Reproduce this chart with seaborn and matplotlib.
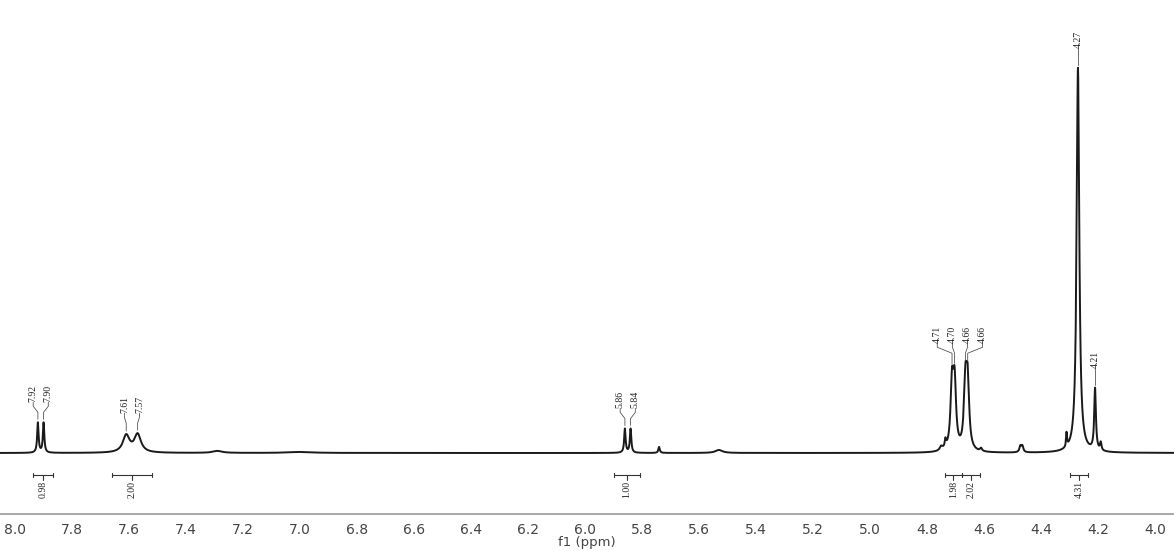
import numpy as np
import pandas as pd
import matplotlib
matplotlib.use("Agg")
import matplotlib.pyplot as plt
from matplotlib.ticker import MultipleLocator, FormatStrFormatter
import seaborn as sns

# peak list: centre (ppm), height above baseline, half width (ppm)
peak_ppm = [7.920, 7.900, 7.610, 7.570, 7.290, 7.000, 5.860, 5.840, 5.740, 5.530,
            4.750, 4.735, 4.712, 4.703, 4.665, 4.657, 4.610, 4.472, 4.465,
            4.310, 4.270, 4.210, 4.190]
peak_height = [30, 30, 17, 18, 2, 1, 24, 24, 6, 3,
               4, 8, 64, 64, 64, 64, 3, 6, 6,
               14, 385, 62, 8]
peak_hwhm = [0.003, 0.003, 0.014, 0.014, 0.02, 0.05, 0.003, 0.003, 0.003, 0.015,
             0.006, 0.003, 0.006, 0.006, 0.006, 0.006, 0.004, 0.004, 0.004,
             0.002, 0.0055, 0.0035, 0.003]

# peak picking labels
label_ppm = [7.92, 7.90, 7.61, 7.57, 5.86, 5.84, 4.712, 4.703, 4.665, 4.657, 4.27, 4.21]
label_text = ["7.92", "7.90", "7.61", "7.57", "5.86", "5.84",
              "4.71", "4.70", "4.66", "4.66", "4.27", "4.21"]

# integration regions
integral_from = [7.937, 7.660, 5.898, 4.737, 4.677, 4.298]
integral_to = [7.867, 7.520, 5.807, 4.677, 4.614, 4.235]
integral_value = ["0.98", "2.00", "1.00", "1.98", "2.02", "4.31"]


def lorentz_sum(x):
    y = np.zeros_like(x)
    for c, h, w in zip(peak_ppm, peak_height, peak_hwhm):
        y += h * w**2 / ((x - c)**2 + w**2)
    return y


ppm = np.linspace(3.93, 8.06, 30000)
spec = pd.DataFrame({"ppm": ppm, "intensity": lorentz_sum(ppm)})

sns.set_style("white")
plt.rcParams['font.family'] = ['DejaVu Sans']

fig = plt.figure(figsize=(11.74, 5.51), dpi=100)
ax = fig.add_axes([0, 37 / 551, 1, 514 / 551])

sns.lineplot(data=spec, x="ppm", y="intensity", sort=False, estimator=None,
             color="#1a1a1a", linewidth=1.4, ax=ax)

ax.set_xlim(8.053, 3.933)
ax.set_ylim(-61, 453)

# peak labels, grouped when close together
groups = []
for i, p in enumerate(label_ppm):
    if groups and abs(label_ppm[groups[-1][-1]] - p) < 0.045:
        groups[-1].append(i)
    else:
        groups.append([i])

spacing = 0.053
for g in groups:
    centre = np.mean([label_ppm[i] for i in g])
    tops = [lorentz_sum(np.array([label_ppm[i]]))[0] for i in g]
    base = max(tops) + 20
    n = len(g)
    for k, i in enumerate(g):
        px = label_ppm[i]
        lx = centre + ((n - 1) / 2 - k) * spacing
        ax.text(lx, base, label_text[i], rotation=90, ha="center", va="bottom",
                fontsize=7, family="Liberation Serif", color="#222222")
        ax.plot([lx, lx, px, px], [base, base - 4, base - 10, tops[k] + 3],
                color="#555555", linewidth=0.6)

# integral brackets
ybr = -22
for a, b, v in zip(integral_from, integral_to, integral_value):
    mid = (a + b) / 2
    ax.plot([a, b], [ybr, ybr], color="#333333", linewidth=0.8)
    ax.plot([a, a], [ybr - 2, ybr + 2], color="#333333", linewidth=0.8)
    ax.plot([b, b], [ybr - 2, ybr + 2], color="#333333", linewidth=0.8)
    ax.plot([mid, mid], [ybr, ybr - 5], color="#333333", linewidth=0.8)
    ax.text(mid, ybr - 6, v, rotation=90, ha="center", va="top",
            fontsize=7, family="Liberation Serif", color="#222222")

for s in ["left", "top", "right"]:
    ax.spines[s].set_visible(False)
ax.spines["bottom"].set_color("#9a9a9a")
ax.spines["bottom"].set_linewidth(1.2)
ax.set_yticks([])
ax.set_ylabel("")
ax.xaxis.set_major_locator(MultipleLocator(0.2))
ax.xaxis.set_minor_locator(MultipleLocator(0.1))
ax.xaxis.set_major_formatter(FormatStrFormatter("%.1f"))
ax.tick_params(axis="x", which="major", direction="out", length=4, width=1,
               color="#777777", labelcolor="#444444", labelsize=10, pad=2.5)
ax.tick_params(axis="x", which="minor", direction="out", length=2.5, width=1,
               color="#999999")
ax.set_xlabel("f1 (ppm)", fontsize=9.5, color="#444444", labelpad=-1)

fig.savefig("out.png", dpi=100)
